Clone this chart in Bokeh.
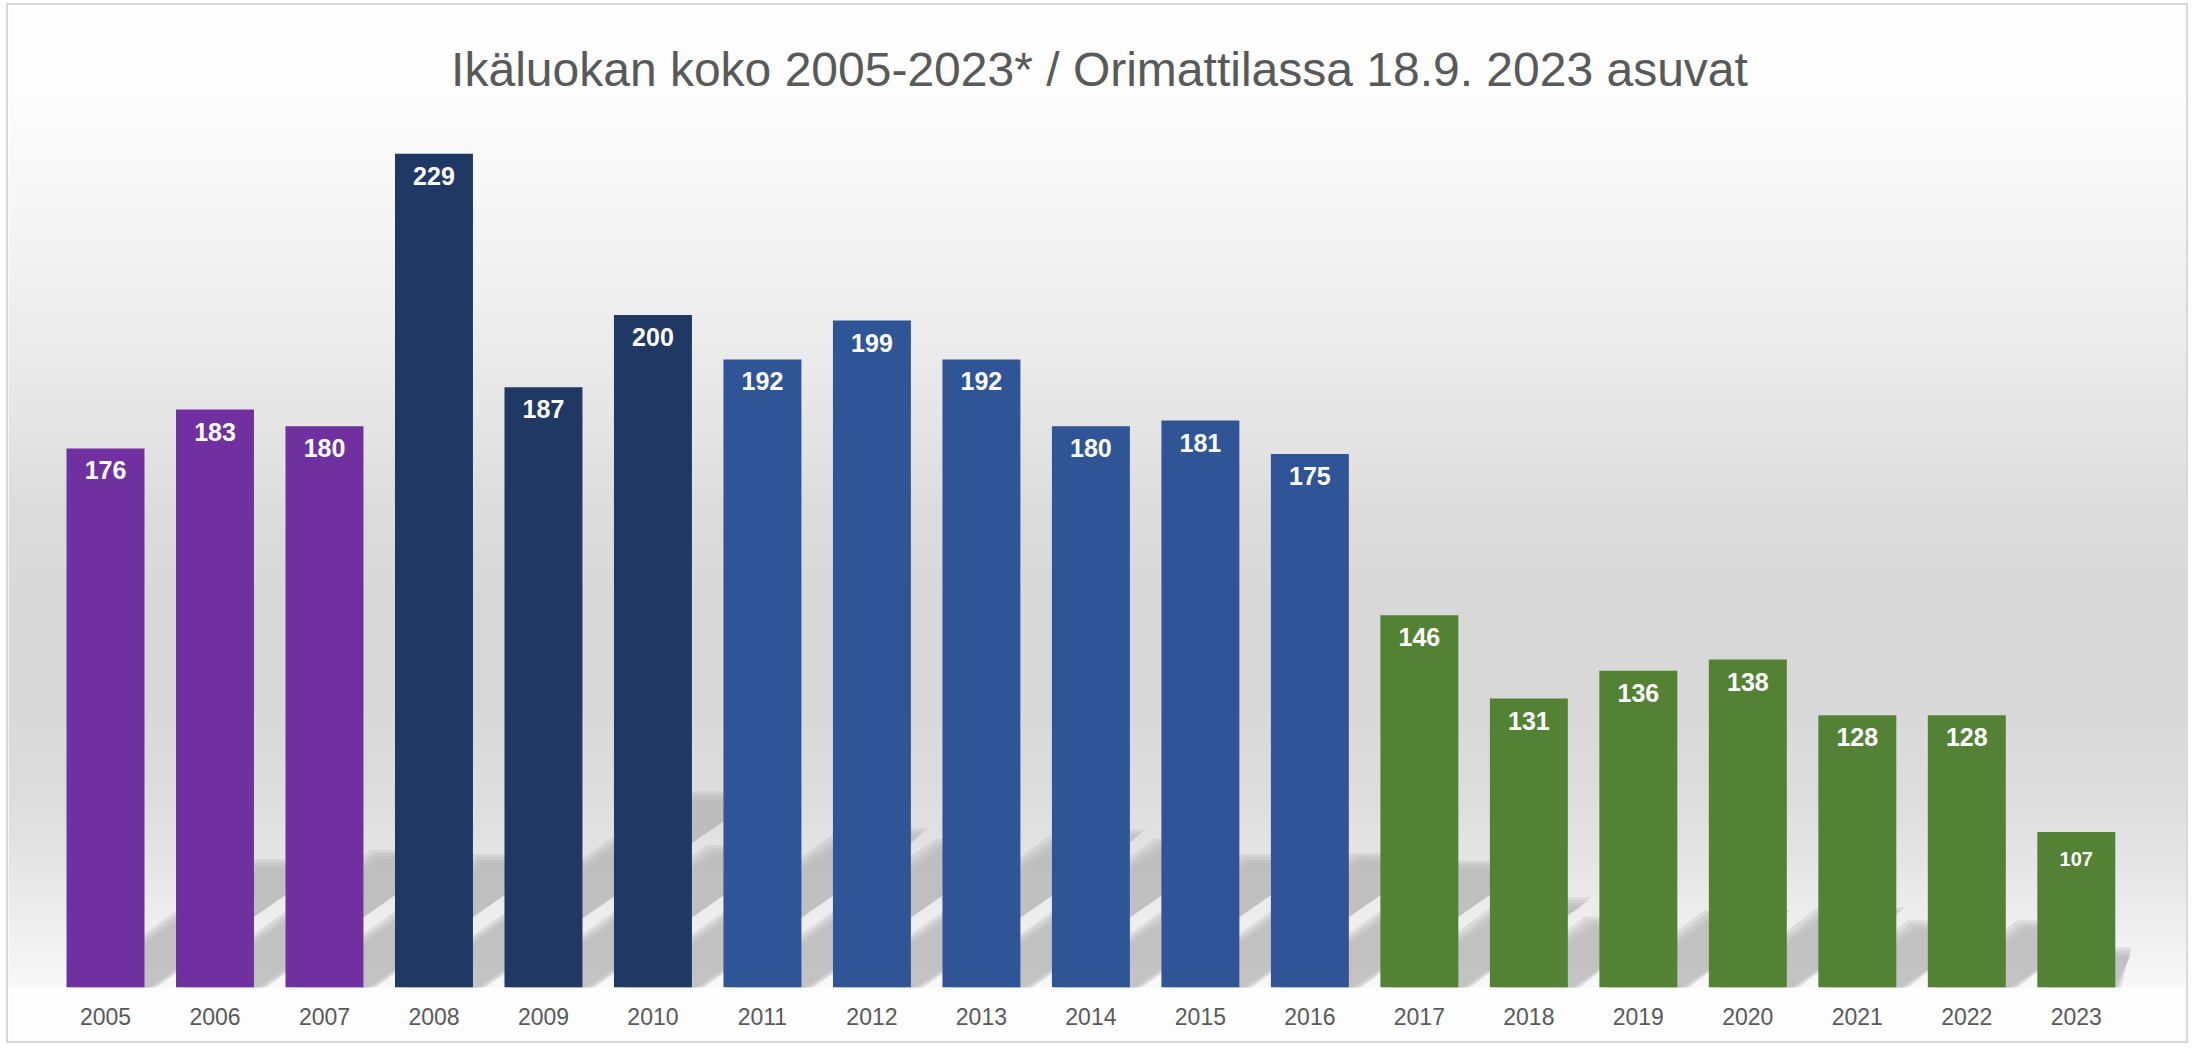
import numpy as np
from bokeh.plotting import figure
from bokeh.models import FixedTicker, ColumnDataSource, Range1d
from bokeh.embed import file_html
from bokeh.resources import INLINE
from bokeh.core.properties import value

# ---- data ----
years = ["2005", "2006", "2007", "2008", "2009", "2010", "2011", "2012", "2013", "2014",
         "2015", "2016", "2017", "2018", "2019", "2020", "2021", "2022", "2023"]
counts = [176, 183, 180, 229, 187, 200, 192, 199, 192, 180,
          181, 175, 146, 131, 136, 138, 128, 128, 107]
groups = ["a", "a", "a", "b", "b", "b", "c", "c", "c", "c",
          "c", "c", "d", "d", "d", "d", "d", "d", "d"]
title_text = "Ikäluokan koko 2005-2023* / Orimattilassa 18.9. 2023 asuvat"

# ---- styles ----
group_colors = {"a": "#7030A0", "b": "#1F3864", "c": "#2F5597", "d": "#548235"}
FONT = "Liberation Sans"
X0, X1 = -0.886, 19.043
Y0, Y1 = 79.0, 238.6
BAR_W = 0.712
W, H = 2182, 1040
TOP, BOTTOM = 95, 58
PLOT_RIGHT = 18.5
px_per_x = W / (X1 - X0)
px_per_y = (H - TOP - BOTTOM) / (Y1 - Y0)

n = len(years)
xs = list(range(n))

p = figure(width=W, height=H, x_range=Range1d(X0, X1), y_range=Range1d(Y0, Y1),
           output_backend="svg", toolbar_location=None, y_axis_location=None,
           min_border_left=0, min_border_right=0, min_border_top=TOP, min_border_bottom=BOTTOM,
           border_fill_color="#fdfdfd", background_fill_color="#fdfdfd",
           outline_line_color=None, title=title_text,
           styles={"border": "2px solid #d9d9d9", "margin-left": "6px", "margin-top": "3px"})
p.xgrid.visible = False
p.ygrid.visible = False

p.title.align = "center"
p.title.text_font = FONT
p.title.text_font_size = "48px"
p.title.text_font_style = "normal"
p.title.text_color = "#595959"

# background vertical gradient (frame fraction from bottom -> grey level)
rows = H - TOP - BOTTOM
frac = np.linspace(0, 1, rows)
stop_f = [0.0, 0.04, 0.154, 0.21, 0.329, 0.431, 0.543, 0.655, 0.887, 1.0]
stop_g = [249, 243, 228, 222, 216, 216, 221, 231, 247, 252]
g = np.interp(frac, stop_f, stop_g).astype(np.uint8)
img = np.empty((rows, 1), dtype=np.uint32)
view = img.view(dtype=np.uint8).reshape((rows, 1, 4))
view[:, 0, 0] = g
view[:, 0, 1] = g
view[:, 0, 2] = g
view[:, 0, 3] = 255
p.image_rgba(image=[img], x=X0, y=Y0, dw=X1 - X0, dh=Y1 - Y0)

# soft perspective shadows derived from bar values (clipped to the plot area)
SKEW = 1.5
SH = 0.23
for e_px in (4.5, 1.5, -1.5, -4.5):
    ex = e_px / px_per_x
    ey = e_px / px_per_y
    sh_xs, sh_ys = [], []
    for i, v in enumerate(counts):
        h_data = SH * (v - Y0)
        shift = SKEW * h_data * px_per_y / px_per_x
        a, b = i - BAR_W / 2 - ex, i + BAR_W / 2 + ex
        top = Y0 + h_data + ey
        sh_xs.append([min(a, PLOT_RIGHT), min(b, PLOT_RIGHT),
                      min(b + shift, PLOT_RIGHT), min(a + shift, PLOT_RIGHT)])
        sh_ys.append([Y0 - 1, Y0 - 1, top, top])
    p.patches(sh_xs, sh_ys, fill_color="#b4b4b4", fill_alpha=0.3, line_color=None)

src = ColumnDataSource(dict(x=xs, top=counts, color=[group_colors[k] for k in groups]))
p.vbar(x="x", top="top", bottom=Y0, width=BAR_W, fill_color="color", line_color=None, source=src)

main = ColumnDataSource(dict(x=xs[:-1], y=counts[:-1], t=[str(c) for c in counts[:-1]]))
last = ColumnDataSource(dict(x=xs[-1:], y=counts[-1:], t=[str(c) for c in counts[-1:]]))
p.text(x="x", y="y", text="t", source=main, text_color="white", text_font=value(FONT),
       text_font_style="bold", text_font_size="25px", text_align="center",
       text_baseline="alphabetic", y_offset=22)
p.text(x="x", y="y", text="t", source=last, text_color="white", text_font=value(FONT),
       text_font_style="bold", text_font_size="20px", text_align="center",
       text_baseline="alphabetic", y_offset=27)

ax = p.xaxis[0]
ax.ticker = FixedTicker(ticks=xs)
ax.major_label_overrides = {i: years[i] for i in xs}
ax.axis_line_color = None
ax.major_tick_line_color = None
ax.minor_tick_line_color = None
ax.major_label_text_font = FONT
ax.major_label_text_font_size = "23px"
ax.major_label_text_color = "#595959"
ax.major_label_standoff = 14

open("out.html", "w").write(file_html(p, INLINE))
